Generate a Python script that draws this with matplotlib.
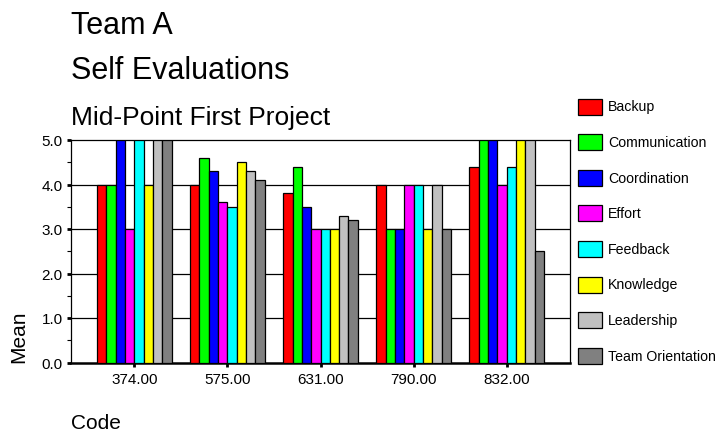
import matplotlib
matplotlib.use("Agg")
import matplotlib.pyplot as plt
from matplotlib.patches import Rectangle
from matplotlib.ticker import MultipleLocator

plt.rcParams['font.family'] = ['Liberation Sans', 'DejaVu Sans']

# Data
codes = ["374.00", "575.00", "631.00", "790.00", "832.00"]
series_names = ["Backup", "Communication", "Coordination", "Effort",
                "Feedback", "Knowledge", "Leadership", "Team Orientation"]
backup = [4.0, 4.0, 3.8, 4.0, 4.4]
communication = [4.0, 4.6, 4.4, 3.0, 5.0]
coordination = [5.0, 4.3, 3.5, 3.0, 5.0]
effort = [3.0, 3.6, 3.0, 4.0, 4.0]
feedback = [5.0, 3.5, 3.0, 4.0, 4.4]
knowledge = [4.0, 4.5, 3.0, 3.0, 5.0]
leadership = [5.0, 4.3, 3.3, 4.0, 5.0]
team_orientation = [5.0, 4.1, 3.2, 3.0, 2.5]
y_ticks = [0.0, 1.0, 2.0, 3.0, 4.0, 5.0]

series_values = [backup, communication, coordination, effort,
                 feedback, knowledge, leadership, team_orientation]
colors = ["#FF0000", "#00FF00", "#0000FF", "#FF00FF",
          "#00FFFF", "#FFFF00", "#C0C0C0", "#808080"]

W, H = 726, 435
fig = plt.figure(figsize=(W / 100, H / 100), dpi=100)
ax = fig.add_axes([71 / W, 1 - 363.5 / H, 499 / W, 222.5 / H])

n = len(series_names)
bw = 0.1
xs = list(range(len(codes)))
for j, (vals, col) in enumerate(zip(series_values, colors)):
    pos = [x + (j - (n - 1) / 2) * bw for x in xs]
    ax.bar(pos, vals, width=bw, color=col, edgecolor="black",
           linewidth=0.9, zorder=3)

ax.set_xlim(-0.68, len(codes) - 1 + 0.68)
ax.set_ylim(0, 5)
ax.set_xticks(xs)
ax.set_xticklabels(codes, fontsize=11)
ax.set_yticks(y_ticks)
ax.set_yticklabels([f"{v:.1f}" for v in y_ticks], fontsize=11)
ax.yaxis.set_minor_locator(MultipleLocator(0.5))
ax.tick_params(axis="y", which="major", direction="out", length=3,
               width=2, pad=3)
ax.tick_params(axis="y", which="minor", direction="out", length=3,
               width=0.8)
ax.tick_params(axis="x", which="major", direction="out", length=3,
               width=2, pad=4)
ax.tick_params(axis="x", which="minor", length=0)

for v in y_ticks[1:-1]:
    ax.axhline(v, color="black", linewidth=0.9, zorder=1)

for s in ["top", "right", "left"]:
    ax.spines[s].set_linewidth(0.9)
ax.spines["bottom"].set_linewidth(1.8)

# Titles
fig.text(71 / W, 1 - 34 / H, "Team A", fontsize=22, va="baseline", ha="left")
fig.text(71 / W, 1 - 79 / H, "Self Evaluations", fontsize=22,
         va="baseline", ha="left")
fig.text(71 / W, 1 - 125 / H, "Mid-Point First Project", fontsize=19,
         va="baseline", ha="left")

# Axis titles
fig.text(71 / W, 1 - 429 / H, "Code", fontsize=15, va="baseline", ha="left")
fig.text(19 / W, 1 - 363 / H, "Mean", fontsize=15, rotation=90,
         va="bottom", ha="center")

# Legend
y_first = 107.5
step = 35.6
for j, (name, col) in enumerate(zip(series_names, colors)):
    yc = y_first + j * step
    fig.add_artist(Rectangle((578 / W, 1 - (yc + 8) / H), 24 / W, 16 / H,
                             transform=fig.transFigure, facecolor=col,
                             edgecolor="black", linewidth=0.9))
    fig.text(608 / W, 1 - yc / H, name, fontsize=10.2, va="center",
             ha="left")

fig.savefig("out.png", dpi=100)
